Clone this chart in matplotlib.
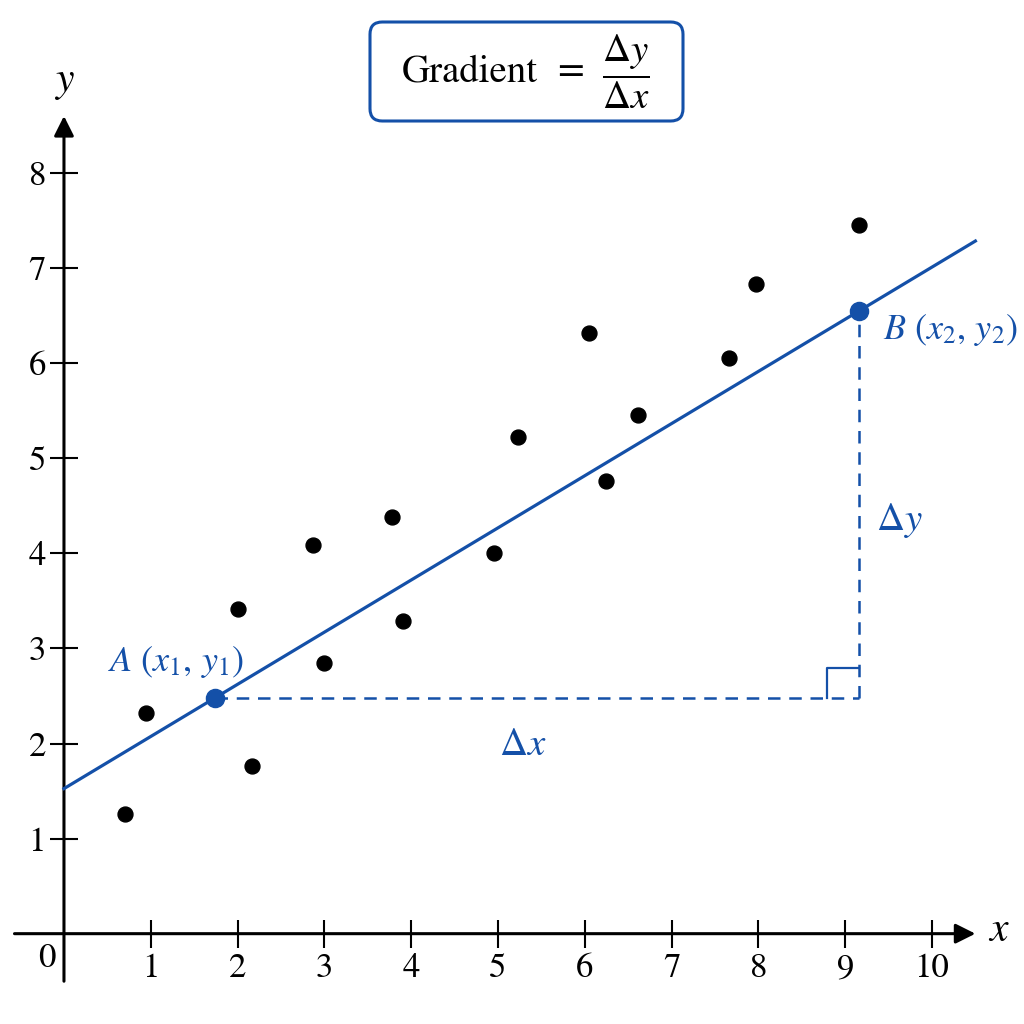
import matplotlib
matplotlib.use('Agg')
import matplotlib.pyplot as plt
from matplotlib.patches import FancyBboxPatch
import numpy as np

plt.rcParams.update({
    'font.family': 'serif',
    'font.serif': ['STIXGeneral', 'Liberation Serif', 'DejaVu Serif'],
    'mathtext.fontset': 'stix',
})

BLUE = '#1450a8'

# scatter data
x_pts = [0.70, 0.94, 2.00, 2.17, 2.87, 3.00, 3.78, 3.91, 4.95, 5.23,
         6.05, 6.25, 6.61, 7.66, 7.97, 9.16]
y_pts = [1.26, 2.32, 3.42, 1.76, 4.09, 2.85, 4.38, 3.29, 4.00, 5.22,
         6.32, 4.76, 5.46, 6.05, 6.83, 7.45]

# two points on the line
A = (1.74, 2.48)
B = (9.16, 6.55)
line_x = [0.0, 10.5]

x_ticks = [1, 2, 3, 4, 5, 6, 7, 8, 9, 10]
y_ticks = [1, 2, 3, 4, 5, 6, 7, 8]

fig = plt.figure(figsize=(10.24, 10.24), dpi=100)
ax = fig.add_axes([0, 0, 1, 1])
ax.set_xlim(-0.737, 11.06)
ax.set_ylim(-0.95, 9.82)

# axes with arrows
for s in ['top', 'right']:
    ax.spines[s].set_visible(False)
ax.spines['left'].set_position(('data', 0))
ax.spines['bottom'].set_position(('data', 0))
ax.spines['left'].set_color('none')
ax.spines['bottom'].set_color('none')
ax.annotate('', xy=(10.5, 0), xytext=(-0.57, 0),
            arrowprops=dict(arrowstyle='-|>', lw=2.2, color='black',
                            mutation_scale=30, shrinkA=0, shrinkB=0))
ax.annotate('', xy=(0, 8.6), xytext=(0, -0.5),
            arrowprops=dict(arrowstyle='-|>', lw=2.2, color='black',
                            mutation_scale=30, shrinkA=0, shrinkB=0))

ax.set_xticks(x_ticks)
ax.set_yticks(y_ticks)
ax.tick_params(direction='inout', length=20, width=1.5, labelsize=25, pad=3)
ax.tick_params(axis='x', pad=4)
ax.text(-0.2, -0.27, '0', fontsize=25, ha='center', va='center')
ax.text(10.65, 0.02, '$x$', fontsize=30, ha='left', va='center')
ax.text(0.0, 8.75, '$y$', fontsize=30, ha='center', va='bottom')

# line of best fit
slope = (B[1] - A[1]) / (B[0] - A[0])
icpt = A[1] - slope * A[0]
lx = np.array(line_x)
ax.plot(lx, icpt + slope * lx, color=BLUE, lw=2.3, zorder=3)

ax.scatter(x_pts, y_pts, s=115, color='black', zorder=4)

# triangle
ax.plot([A[0], B[0]], [A[1], A[1]], color=BLUE, lw=1.8, ls=(0, (5, 3.5)), zorder=2)
ax.plot([B[0], B[0]], [A[1], B[1]], color=BLUE, lw=1.8, ls=(0, (5, 3.5)), zorder=2)
sq_w, sq_h = 0.37, 0.31
ax.plot([B[0] - sq_w, B[0] - sq_w, B[0]], [A[1], A[1] + sq_h, A[1] + sq_h],
        color=BLUE, lw=1.6, zorder=2)
ax.scatter([A[0], B[0]], [A[1], B[1]], s=170, color=BLUE, zorder=5)

ax.text(A[0] - 0.45, A[1] + 0.38, r'$A\ (x_1,\, y_1)$', color=BLUE, fontsize=26,
        ha='center', va='center')
ax.text(B[0] + 0.27, B[1] - 0.2, r'$B\ (x_2,\, y_2)$', color=BLUE, fontsize=26,
        ha='left', va='center')
ax.text((A[0] + B[0]) / 2 - 0.17, A[1] - 0.5, r'$\Delta x$', color=BLUE,
        fontsize=28, ha='center', va='center')
ax.text(B[0] + 0.2, 4.35, r'$\Delta y$', color=BLUE, fontsize=28,
        ha='left', va='center')

# title box
box = FancyBboxPatch((370 / 1024, 1 - 121 / 1024), 313 / 1024, 99 / 1024,
                     boxstyle='round,pad=0,rounding_size=0.012',
                     transform=fig.transFigure, fc='white', ec=BLUE, lw=2.2)
fig.patches.append(box)
fig.text(402 / 1024, 1 - 72 / 1024, 'Gradient', fontsize=28, ha='left', va='center')
fig.text(570 / 1024, 1 - 72 / 1024, '=', fontsize=28, ha='center', va='center')
fig.text(626 / 1024, 1 - 72 / 1024, r'$\dfrac{\Delta y}{\Delta x}$', fontsize=28,
         ha='center', va='center')

fig.savefig('out.png', dpi=100, facecolor='white')
